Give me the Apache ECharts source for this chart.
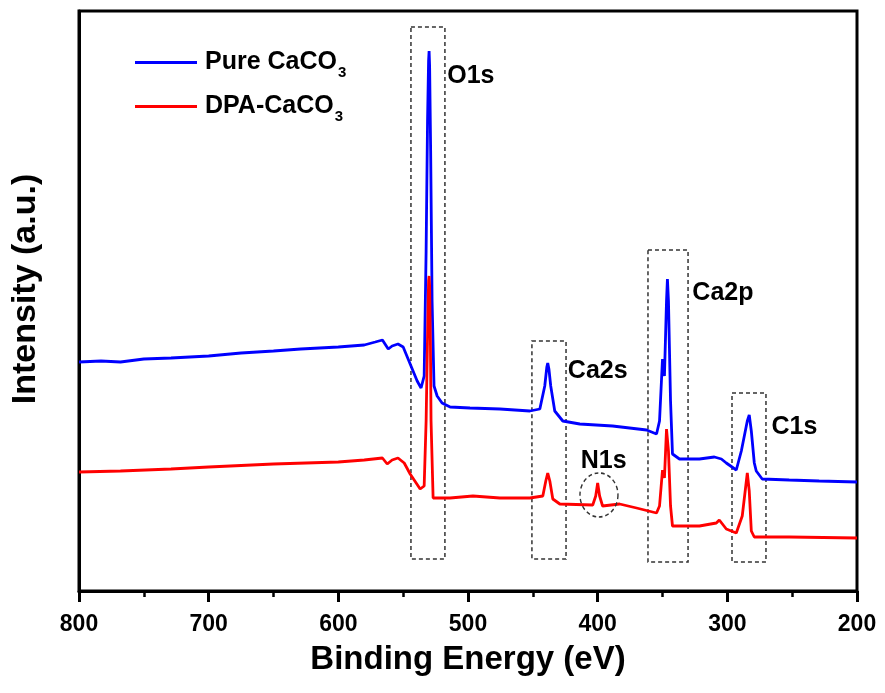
<!DOCTYPE html>
<html>
<head>
<meta charset="utf-8">
<script src="https://cdn.jsdelivr.net/npm/echarts@6.0.0/dist/echarts.min.js"></script>
<style>
  html, body { margin: 0; padding: 0; background: #fff; }
  #app { width: 885px; height: 693px; }
</style>
</head>
<body>
<div id="app"></div>
<script>
// binding energy (eV) / intensity (a.u.)
var energyPure = [800, 783, 768, 750, 729, 700, 675, 650, 629, 600, 580, 571.5, 566, 561.5, 558.5, 554, 550, 544.6, 539.2, 536.2,
  533.8, 532.3, 531.2, 530.4, 530, 529.6, 528.8, 527.7, 526.2, 523.8, 520, 513.8, 498.5, 475.4, 452.3, 444.6, 440.8, 439.2, 438.5, 437.6, 436.2, 433.1,
  426.9, 413.8, 388.5, 362.3, 354.6, 352.3, 350, 348.5, 346.9, 346.2, 345.4, 343.8, 342.3, 336.9, 321.5, 310, 304.6, 300.8,
  293.1, 289.2, 284.6, 283.1, 281.5, 279.2, 277.7, 273.1, 252.3, 229.2, 200];
var intensityPure = [229, 230, 229, 232, 233, 235, 238, 240, 242, 244, 246, 249, 251, 242, 245, 247, 244, 227, 210, 203,
  215, 340, 470, 530, 540, 525, 440, 290, 205, 195, 188, 184, 183, 182, 180, 182, 205, 224, 228, 222, 205, 180,
  170, 167, 165, 161, 157, 170, 232, 215, 290, 312, 290, 190, 137, 132, 132, 134, 132, 128,
  121, 140, 170, 176, 160, 128, 120, 112, 111, 110, 109];

var energyDPA = [800, 768, 729, 700, 650, 600, 580, 566, 562.3, 558.5, 554, 549.2, 544.6, 536.9, 533.8, 532.3, 531, 530.4, 530,
  529.6, 529, 528.5, 526.9, 513.8, 496.2, 475.4, 452.3, 442.3, 440, 438.5, 436.9, 434.6, 429.2, 403.8, 401.5, 400, 398.5, 396.2,
  383.1, 370, 354.6, 352.3, 350, 348.5, 346.9, 345.4, 343.8, 342.3, 321.5, 308.5, 306.2, 300.8, 293.1, 288.5, 284.6, 283.1,
  281.5, 279.2, 252.3, 200];
var intensityDPA = [119, 120, 122, 124, 127, 129, 131, 133, 127, 131, 133, 128, 117, 102, 105, 170, 270, 310, 315,
  305, 250, 170, 93, 93, 95, 93, 93, 95, 110, 118, 110, 92, 87, 86, 95, 108, 95, 85,
  87, 83, 78, 85, 121, 113, 162, 140, 85, 65, 65, 68, 71, 62, 58, 75, 118, 100,
  60, 54, 54, 53];

var xTicks = [800, 700, 600, 500, 400, 300, 200];

// peak annotations: [label, energy, intensity]
var peakLabels = [['O1s', 516, 515], ['Ca2s', 423, 220], ['N1s', 413, 130], ['Ca2p', 327, 298], ['C1s', 266, 164]];
// dashed boxes: [E left, E right, I bottom, I top]
var peakBoxes = [[544.0, 517.8, 32, 564], [450.7, 424.4, 32, 250], [361.2, 330.3, 29, 341], [296.4, 270.2, 29, 198]];

function pairs(xs, ys) {
  var out = [];
  for (var i = 0; i < xs.length; i++) out.push([xs[i], ys[i]]);
  return out;
}

var font = '"Liberation Sans", Arial, sans-serif';
var chart = echarts.init(document.getElementById('app'), null, { renderer: 'canvas' });

var option = {
  animation: false,
  backgroundColor: '#fff',
  grid: { left: 79, right: 28, top: 11, bottom: 102, show: true, borderColor: '#000', borderWidth: 3 },
  legend: {
    left: 130, top: 40, orient: 'vertical', icon: 'rect', itemWidth: 62, itemHeight: 3, itemGap: 9,
    data: ['Pure CaCO3', 'DPA-CaCO3'],
    formatter: function (name) {
      return '{t|' + name.slice(0, -1) + '}{s|3}';
    },
    textStyle: {
      rich: {
        t: { fontFamily: font, fontWeight: 'bold', fontSize: 25, color: '#000', lineHeight: 30, padding: [0, 0, 0, 3] },
        s: { fontFamily: font, fontWeight: 'bold', fontSize: 15, color: '#000', lineHeight: 30, padding: [20, 0, 0, 1] }
      }
    }
  },
  xAxis: {
    type: 'value', inverse: true, min: 200, max: 800, interval: 100,
    name: 'Binding Energy (eV)', nameLocation: 'middle', nameGap: 52,
    nameTextStyle: { fontFamily: font, fontWeight: 'bold', fontSize: 33, color: '#000' },
    axisLine: { lineStyle: { color: '#000', width: 3 } },
    axisTick: { length: 11, lineStyle: { color: '#000', width: 3 } },
    minorTick: { show: true, splitNumber: 2, length: 6, lineStyle: { color: '#000', width: 2.5 } },
    axisLabel: {
      margin: 22, fontFamily: font, fontWeight: 'bold', fontSize: 23, color: '#000',
      formatter: function (v) { return xTicks.indexOf(v) >= 0 ? String(v) : ''; }
    },
    splitLine: { show: false }
  },
  yAxis: {
    type: 'value', min: 0, max: 580,
    name: 'Intensity (a.u.)', nameLocation: 'middle', nameGap: 36,
    nameTextStyle: { fontFamily: font, fontWeight: 'bold', fontSize: 34, color: '#000', padding: [0, 0, 0, 24] },
    axisLine: { show: true, lineStyle: { color: '#000', width: 3 } },
    axisTick: { show: false }, axisLabel: { show: false }, splitLine: { show: false }
  },
  series: [
    {
      name: 'Pure CaCO3', type: 'line', showSymbol: false, symbol: 'none', z: 3,
      data: pairs(energyPure, intensityPure),
      lineStyle: { color: '#0000ff', width: 2.8 }, itemStyle: { color: '#0000ff' },
      markArea: {
        silent: true,
        itemStyle: { color: 'rgba(0,0,0,0)', borderColor: '#333', borderWidth: 1.5, borderType: [4, 3] },
        data: peakBoxes.map(function (b) { return [{ coord: [b[0], b[3]] }, { coord: [b[1], b[2]] }]; })
      }
    },
    {
      name: 'DPA-CaCO3', type: 'line', showSymbol: false, symbol: 'none', z: 4,
      data: pairs(energyDPA, intensityDPA),
      lineStyle: { color: '#ff0000', width: 2.8 }, itemStyle: { color: '#ff0000' },
      markPoint: {
        silent: true, symbol: 'circle', symbolSize: [38, 44],
        itemStyle: { color: 'rgba(0,0,0,0)', borderColor: '#333', borderWidth: 1.5, borderType: [4, 3] },
        label: { show: false },
        data: [{ coord: [399, 96] }]
      }
    }
  ]
};
chart.setOption(option);

// peak name labels placed through the axes
chart.setOption({
  graphic: peakLabels.map(function (p) {
    var pt = chart.convertToPixel({ gridIndex: 0 }, [p[1], p[2]]);
    return {
      type: 'text', x: pt[0], y: pt[1], z: 10,
      style: { text: p[0], fill: '#000', font: 'bold 25px ' + font, textVerticalAlign: 'middle' }
    };
  })
});
</script>
</body>
</html>
